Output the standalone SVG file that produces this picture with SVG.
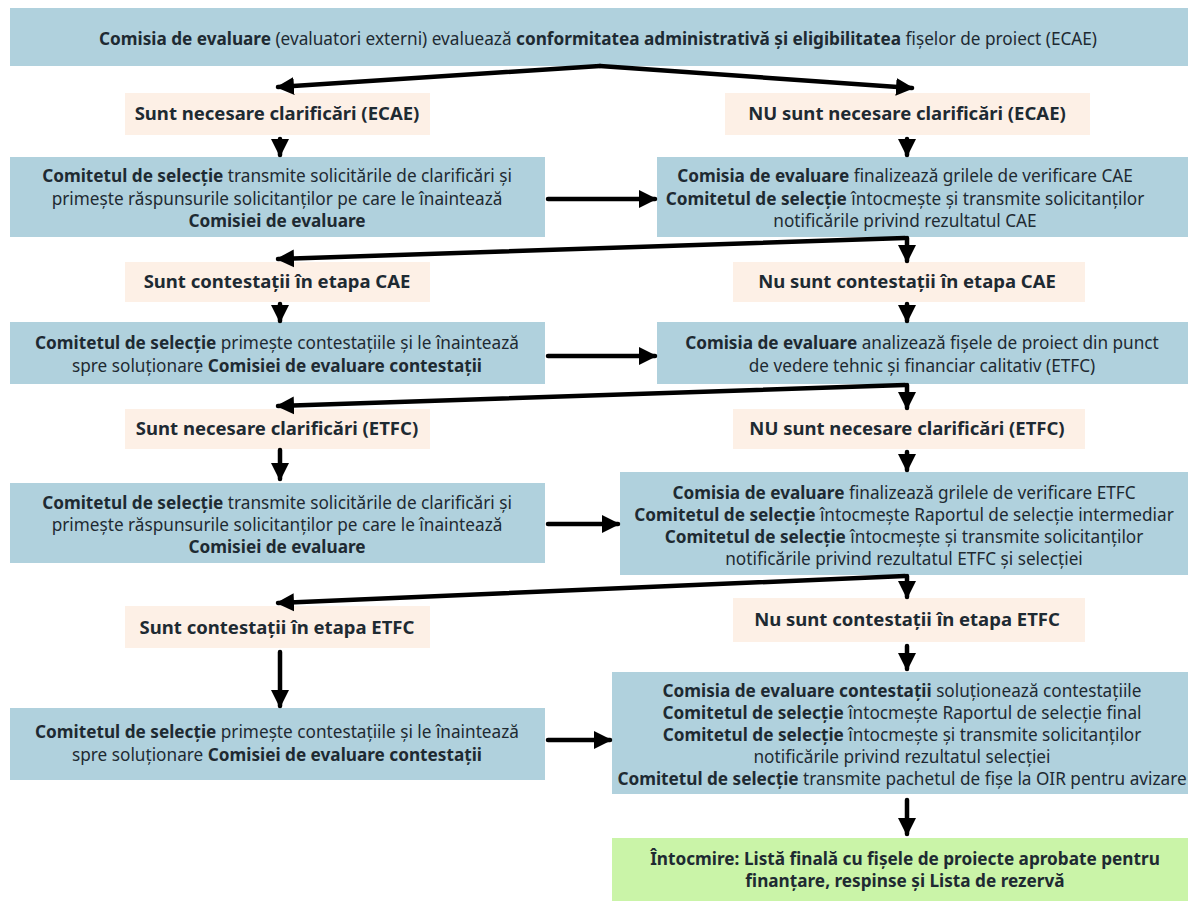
<svg xmlns="http://www.w3.org/2000/svg" width="1198" height="901" viewBox="0 0 1198 901">
<defs>
<style>
.blue{fill:#b0d1dd}
.beige{fill:#fdf0e6}
.green{fill:#caf4a8}
text{font-family:"Noto Sans","Open Sans",sans-serif;font-size:17.2px;fill:#1e2a32;text-anchor:middle}
.b{font-weight:bold}
.h{font-weight:bold;font-size:18.5px}
.c{fill:none;stroke:#000;stroke-width:4.5;stroke-linecap:round}
</style>
<marker id="ah" markerUnits="userSpaceOnUse" markerWidth="20" markerHeight="20" viewBox="0 0 20 20" refX="16" refY="10" orient="auto">
<path d="M0,1 L18,10 L0,19 Z" fill="#000"/>
</marker>
</defs>
<rect width="1198" height="901" fill="#fff"/>

<g id="n-top">
<rect class="blue" x="10" y="8" width="1178" height="58"/>
<text x="598" y="45"><tspan class="b">Comisia de evaluare</tspan> (evaluatori externi) evaluează <tspan class="b">conformitatea administrativă și eligibilitatea</tspan> fișelor de proiect (ECAE)</text>
</g>

<g id="n-cl-ecae">
<rect class="beige" x="125" y="93" width="305" height="42"/>
<text class="h" x="277" y="120">Sunt necesare clarificări (ECAE)</text>
</g>
<g id="n-nucl-ecae">
<rect class="beige" x="725" y="93" width="365" height="42"/>
<text class="h" x="907" y="120">NU sunt necesare clarificări (ECAE)</text>
</g>

<g id="n-cs-cl1">
<rect class="blue" x="10" y="157" width="535" height="80"/>
<text x="277" y="182"><tspan class="b">Comitetul de selecție</tspan> transmite solicitările de clarificări și</text>
<text x="277" y="205">primește răspunsurile solicitanților pe care le înaintează</text>
<text x="277" y="227" class="b">Comisiei de evaluare</text>
</g>
<g id="n-ce-cae">
<rect class="blue" x="657" y="157" width="531" height="80"/>
<text x="905" y="182"><tspan class="b">Comisia de evaluare</tspan> finalizează grilele de verificare CAE</text>
<text x="905" y="205"><tspan class="b">Comitetul de selecție</tspan> întocmește și transmite solicitanților</text>
<text x="905" y="227">notificările privind rezultatul CAE</text>
</g>

<g id="n-ct-cae">
<rect class="beige" x="125" y="262" width="305" height="40"/>
<text class="h" x="277" y="288">Sunt contestații în etapa CAE</text>
</g>
<g id="n-nuct-cae">
<rect class="beige" x="733" y="262" width="352" height="40"/>
<text class="h" x="907" y="288">Nu sunt contestații în etapa CAE</text>
</g>

<g id="n-cs-ct1">
<rect class="blue" x="10" y="322" width="535" height="62"/>
<text x="277" y="349"><tspan class="b">Comitetul de selecție</tspan> primește contestațiile și le înaintează</text>
<text x="277" y="372">spre soluționare <tspan class="b">Comisiei de evaluare contestații</tspan></text>
</g>
<g id="n-ce-etfc">
<rect class="blue" x="657" y="322" width="531" height="62"/>
<text x="922" y="349"><tspan class="b">Comisia de evaluare</tspan> analizează fișele de proiect din punct</text>
<text x="922" y="372">de vedere tehnic și financiar calitativ (ETFC)</text>
</g>

<g id="n-cl-etfc">
<rect class="beige" x="125" y="409" width="305" height="40"/>
<text class="h" x="277" y="435">Sunt necesare clarificări (ETFC)</text>
</g>
<g id="n-nucl-etfc">
<rect class="beige" x="733" y="409" width="352" height="40"/>
<text class="h" x="907" y="435">NU sunt necesare clarificări (ETFC)</text>
</g>

<g id="n-cs-cl2">
<rect class="blue" x="10" y="483" width="535" height="80"/>
<text x="277" y="509"><tspan class="b">Comitetul de selecție</tspan> transmite solicitările de clarificări și</text>
<text x="277" y="531">primește răspunsurile solicitanților pe care le înaintează</text>
<text x="277" y="553" class="b">Comisiei de evaluare</text>
</g>
<g id="n-ce-fin-etfc">
<rect class="blue" x="620" y="472" width="568" height="103"/>
<text x="904" y="499"><tspan class="b">Comisia de evaluare</tspan> finalizează grilele de verificare ETFC</text>
<text x="904" y="521"><tspan class="b">Comitetul de selecție</tspan> întocmește Raportul de selecție intermediar</text>
<text x="904" y="543"><tspan class="b">Comitetul de selecție</tspan> întocmește și transmite solicitanților</text>
<text x="904" y="565">notificările privind rezultatul ETFC și selecției</text>
</g>

<g id="n-ct-etfc">
<rect class="beige" x="125" y="606" width="305" height="42"/>
<text class="h" x="277" y="634">Sunt contestații în etapa ETFC</text>
</g>
<g id="n-nuct-etfc">
<rect class="beige" x="733" y="598" width="352" height="44"/>
<text class="h" x="907" y="626">Nu sunt contestații în etapa ETFC</text>
</g>

<g id="n-cs-ct2">
<rect class="blue" x="10" y="708" width="535" height="72"/>
<text x="277" y="738"><tspan class="b">Comitetul de selecție</tspan> primește contestațiile și le înaintează</text>
<text x="277" y="761">spre soluționare <tspan class="b">Comisiei de evaluare contestații</tspan></text>
</g>
<g id="n-final-steps">
<rect class="blue" x="612" y="672" width="576" height="122"/>
<text x="902" y="697"><tspan class="b">Comisia de evaluare contestații</tspan> soluționează contestațiile</text>
<text x="902" y="719"><tspan class="b">Comitetul de selecție</tspan> întocmește Raportul de selecție final</text>
<text x="902" y="741"><tspan class="b">Comitetul de selecție</tspan> întocmește și transmite solicitanților</text>
<text x="902" y="763">notificările privind rezultatul selecției</text>
<text x="902" y="785"><tspan class="b">Comitetul de selecție</tspan> transmite pachetul de fișe la OIR pentru avizare</text>
</g>

<g id="n-list">
<rect class="green" x="612" y="838" width="576" height="63"/>
<text x="905" y="865" class="b">Întocmire: Listă finală cu fișele de proiecte aprobate pentru</text>
<text x="905" y="887" class="b">finanțare, respinse și Lista de rezervă</text>
</g>

<g id="connectors">
<path class="c" d="M600,66 L278,87" marker-end="url(#ah)"/>
<path class="c" d="M600,66 L912,88" marker-end="url(#ah)"/>
<path class="c" d="M280,139 L280,155" marker-end="url(#ah)"/>
<path class="c" d="M907,139 L907,155" marker-end="url(#ah)"/>
<path class="c" d="M548,199 L655,199" marker-end="url(#ah)"/>
<path class="c" d="M905,238 L278,259" marker-end="url(#ah)"/>
<path class="c" d="M907,238 L907,261" marker-end="url(#ah)"/>
<path class="c" d="M280,304 L280,321" marker-end="url(#ah)"/>
<path class="c" d="M907,304 L907,321" marker-end="url(#ah)"/>
<path class="c" d="M548,356 L655,356" marker-end="url(#ah)"/>
<path class="c" d="M905,385 L278,406" marker-end="url(#ah)"/>
<path class="c" d="M907,385 L907,408" marker-end="url(#ah)"/>
<path class="c" d="M280,450 L280,479" marker-end="url(#ah)"/>
<path class="c" d="M907,452 L907,470" marker-end="url(#ah)"/>
<path class="c" d="M548,524 L618,524" marker-end="url(#ah)"/>
<path class="c" d="M905,576 L278,603" marker-end="url(#ah)"/>
<path class="c" d="M907,576 L907,597" marker-end="url(#ah)"/>
<path class="c" d="M280,652 L280,706" marker-end="url(#ah)"/>
<path class="c" d="M907,646 L907,669" marker-end="url(#ah)"/>
<path class="c" d="M548,740 L610,740" marker-end="url(#ah)"/>
<path class="c" d="M907,800 L907,834" marker-end="url(#ah)"/>
</g>
</svg>
